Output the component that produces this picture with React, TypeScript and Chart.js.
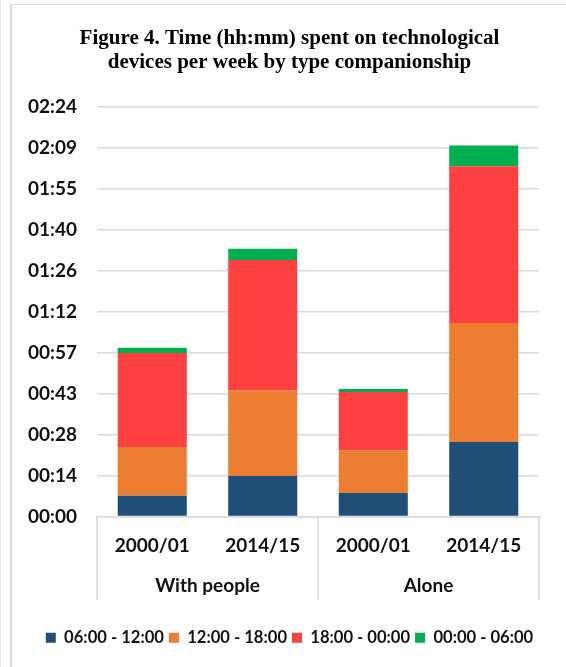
import React, { useEffect, useRef } from "react";
import { Chart, registerables } from "chart.js";

Chart.register(...registerables);

const categories = ["2000/01", "2014/15", "2000/01", "2014/15"];
const groups = ["With people", "Alone"];
const seriesNames = ["06:00 - 12:00", "12:00 - 18:00", "18:00 - 00:00", "00:00 - 06:00"];
// minutes per week
const morning = [7.3, 14.2, 8.2, 26.2];
const afternoon = [17.1, 30.1, 15.1, 41.8];
const evening = [33.1, 45.9, 20.5, 55.2];
const night = [1.8, 3.9, 1.0, 7.3];
const colors = ["#1F4E79", "#ED7D31", "#FF4040", "#00B050"];
const yMax = 144;
const yStep = 14.4;
const titleLines = ["Figure 4. Time (hh:mm) spent on technological", "devices per week by type companionship"];

const fmt = (v: number) => {
  const m = Math.round(v * 10) / 10;
  const h = Math.floor(m / 60);
  const mm = Math.floor(m - h * 60 + 1e-6);
  return String(h).padStart(2, "0") + ":" + String(mm).padStart(2, "0");
};

const separators = {
  id: "separators",
  afterDraw(chart: any) {
    const { ctx, chartArea, scales } = chart;
    const x = scales.x;
    const mid = (x.getPixelForValue(1) + x.getPixelForValue(2)) / 2;
    const bottom = chartArea.bottom + 83.5;
    ctx.save();
    ctx.strokeStyle = "#d9d9d9";
    ctx.lineWidth = 1.5;
    [chartArea.left, mid, chartArea.right].forEach((px: number) => {
      ctx.beginPath();
      ctx.moveTo(px, chartArea.bottom);
      ctx.lineTo(px, bottom);
      ctx.stroke();
    });
    ctx.restore();
  },
};

export default function App() {
  const ref = useRef<HTMLCanvasElement>(null);
  useEffect(() => {
    if (!ref.current) return;
    const data = [morning, afternoon, evening, night];
    const chart = new Chart(ref.current, {
      type: "bar",
      data: {
        labels: categories,
        datasets: seriesNames.map((n, i) => ({
          label: n,
          data: data[i],
          backgroundColor: colors[i],
          borderWidth: 0,
          categoryPercentage: 1,
          barPercentage: 0.625,
          xAxisID: "x",
        })),
      },
      options: {
        animation: false,
        responsive: true,
        maintainAspectRatio: false,
        layout: { padding: { left: 40, right: 27, top: 0, bottom: 11 } },
        plugins: {
          title: {
            display: true,
            text: titleLines,
            color: "#000",
            font: { family: "Liberation Serif", size: 21, weight: "bold", lineHeight: 1.143 },
            padding: { top: 27, bottom: 32 },
          },
          legend: {
            position: "bottom",
            labels: {
              boxWidth: 10,
              boxHeight: 10,
              padding: 5,
              color: "#111",
              font: { family: "Lato", size: 16.6, weight: "bold" },
            },
          },
          tooltip: { enabled: false },
        },
        scales: {
          x: {
            stacked: true,
            position: "bottom",
            weight: 0,
            grid: { display: false },
            border: { display: true, color: "#d9d9d9", width: 1.5 },
            ticks: { color: "#111", padding: 10.5, font: { family: "Lato", size: 19, weight: "bold" } },
            afterFit: (s: any) => { s.height = 45; },
          },
          x2: {
            type: "category",
            labels: groups,
            position: "bottom",
            weight: 1,
            offset: true,
            grid: { display: false },
            border: { display: false },
            ticks: { color: "#111", padding: 5, font: { family: "Lato", size: 19, weight: "bold" } },
            afterFit: (s: any) => { s.height = 63; },
          },
          y: {
            stacked: true,
            min: 0,
            max: yMax,
            grid: { color: "#d9d9d9", lineWidth: 1.5, drawTicks: false },
            border: { display: false },
            ticks: {
              stepSize: yStep,
              mirror: true,
              padding: -69,
              color: "#111",
              font: { family: "Lato", size: 19, weight: "bold" },
              callback: (v: any) => fmt(Number(v)),
            },
            afterFit: (s: any) => { s.width = 57; },
          },
        },
      },
      plugins: [separators],
    } as any);
    return () => chart.destroy();
  }, []);

  return (
    <div style={{ position: "fixed", left: 0, top: 0, width: 566, height: 667, background: "#fff", overflow: "hidden" }}>
      <div style={{ position: "absolute", left: 0, top: 0, width: 1, height: 667, background: "#e6e6e6" }} />
      <div style={{ position: "absolute", left: 10, top: 4, width: 600, height: 700, borderLeft: "2px solid #d9d9d9", borderTop: "1.5px solid #d9d9d9" }} />
      <div style={{ position: "absolute", left: 0, top: 0, width: 566, height: 667 }}>
        <canvas ref={ref} />
      </div>
    </div>
  );
}
